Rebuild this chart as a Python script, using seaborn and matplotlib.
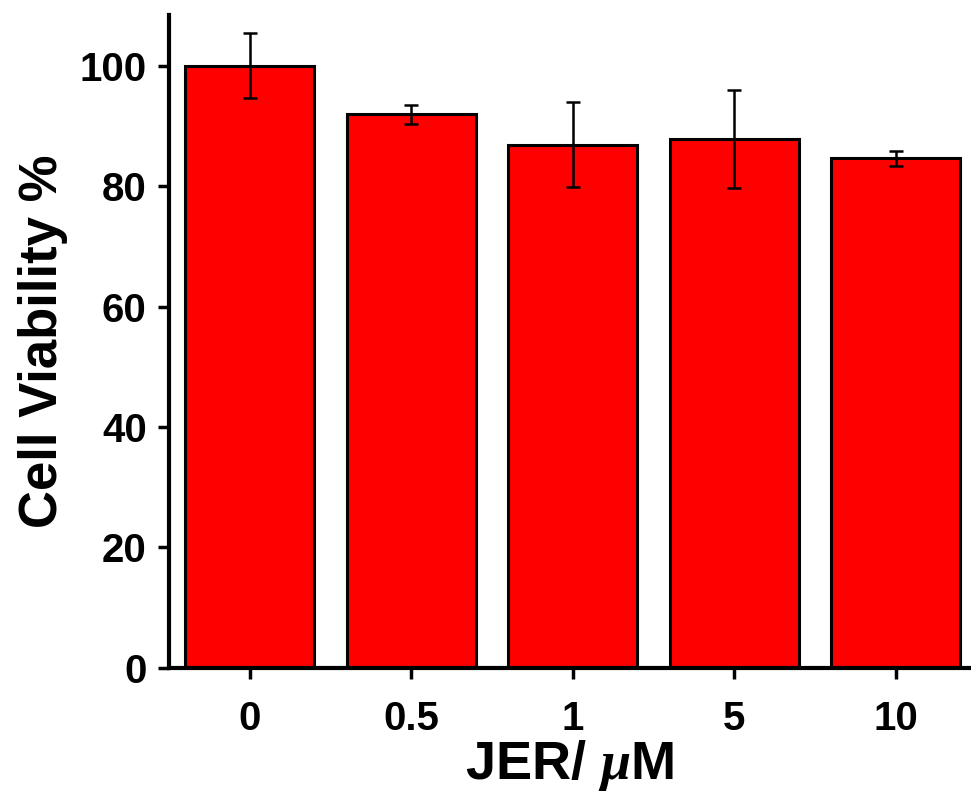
import matplotlib
matplotlib.use("Agg")
import matplotlib.pyplot as plt
import seaborn as sns
import pandas as pd

# Cell viability after JER treatment (mean ± SD)
concentrations = ["0", "0.5", "1", "5", "10"]
viability = [100.0, 91.9, 86.9, 87.8, 84.6]
viability_sd = [5.4, 1.5, 7.0, 8.1, 1.3]

df = pd.DataFrame({"conc": concentrations, "viability": viability, "sd": viability_sd})

sns.set_theme(style="ticks")
plt.rcParams["font.family"] = ["Liberation Sans", "DejaVu Sans"]
plt.rcParams["font.weight"] = "bold"
plt.rcParams["axes.labelcolor"] = "black"
plt.rcParams["text.color"] = "black"
plt.rcParams["mathtext.fontset"] = "custom"
plt.rcParams["mathtext.it"] = "Liberation Serif:italic"

fig = plt.figure(figsize=(9.71, 7.96), dpi=100)
ax = fig.add_axes([0.174, 0.161, 0.826, 0.820])

sns.barplot(data=df, x="conc", y="viability", order=concentrations,
            color="#ff0000", saturation=1, width=0.8, errorbar=None,
            edgecolor="black", linewidth=2.2, ax=ax)
ax.errorbar(range(len(concentrations)), df["viability"], yerr=df["sd"],
            fmt="none", ecolor="black", elinewidth=1.8, capsize=5, capthick=1.8)

ax.set_xlim(-0.5, 4.465)
ax.set_ylim(0, 108.4)
ax.set_yticks([0, 20, 40, 60, 80, 100])

for side in ("top", "right"):
    ax.spines[side].set_visible(False)
for side in ("left", "bottom"):
    ax.spines[side].set_linewidth(3)
    ax.spines[side].set_color("black")

ax.tick_params(axis="both", direction="out", length=8, width=2.5, color="black",
               labelsize=29, labelcolor="black", pad=8)
for lab in ax.get_xticklabels() + ax.get_yticklabels():
    lab.set_fontweight("bold")
ax.tick_params(axis="x", pad=15)

ax.set_xlabel(r"JER/ $\mu$M", fontsize=39, fontweight="bold", labelpad=0)
ax.set_ylabel("Cell Viability %", fontsize=38, fontweight="bold", labelpad=8)

fig.savefig("out.png", dpi=100, facecolor="white")
